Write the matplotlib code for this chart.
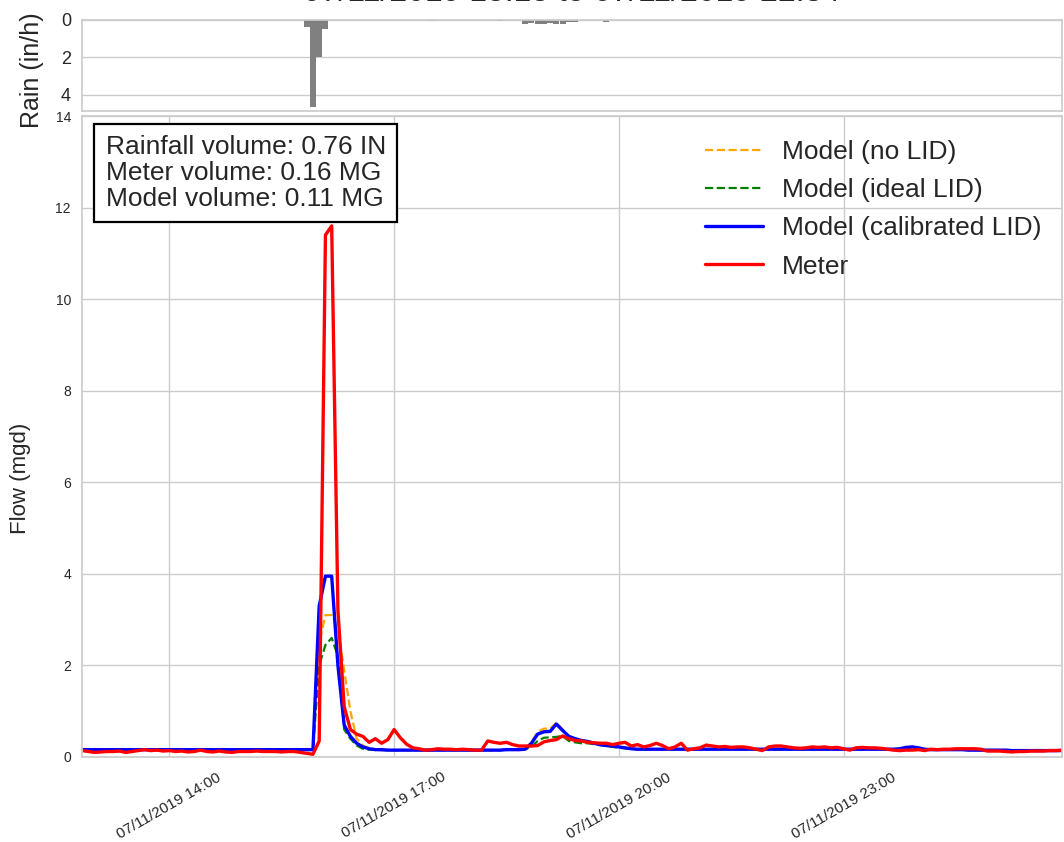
import matplotlib
matplotlib.use('Agg')
import matplotlib.pyplot as plt
import matplotlib.dates as mdates
import seaborn as sns
import pandas as pd

sns.set_theme(style='whitegrid')
plt.rcParams['font.family'] = ['Liberation Sans', 'DejaVu Sans']

# 5-minute flow records
times = pd.date_range('2019-07-11 12:50', periods=158, freq='5min')

meter = [
    0.14, 0.12, 0.10, 0.11, 0.12, 0.12, 0.13, 0.10, 0.12, 0.14,
    0.16, 0.14, 0.15, 0.13, 0.14, 0.12, 0.13, 0.11, 0.12, 0.15,
    0.12, 0.11, 0.13, 0.11, 0.10, 0.12, 0.12, 0.12, 0.13, 0.12,
    0.12, 0.12, 0.11, 0.12, 0.12, 0.10, 0.08, 0.06, 0.35, 11.4,
    11.6, 3.2, 1.1, 0.6, 0.5, 0.45, 0.32, 0.4, 0.3, 0.38,
    0.6, 0.42, 0.28, 0.2, 0.18, 0.15, 0.16, 0.18, 0.17, 0.17,
    0.16, 0.17, 0.16, 0.15, 0.15, 0.35, 0.32, 0.3, 0.32, 0.27,
    0.24, 0.24, 0.24, 0.25, 0.33, 0.36, 0.38, 0.46, 0.4, 0.36,
    0.35, 0.32, 0.31, 0.3, 0.3, 0.27, 0.3, 0.32, 0.24, 0.27,
    0.22, 0.25, 0.3, 0.25, 0.18, 0.22, 0.3, 0.15, 0.18, 0.2,
    0.26, 0.24, 0.22, 0.23, 0.21, 0.22, 0.22, 0.2, 0.17, 0.14,
    0.22, 0.24, 0.24, 0.22, 0.2, 0.19, 0.2, 0.22, 0.21, 0.22,
    0.2, 0.21, 0.18, 0.15, 0.2, 0.21, 0.2, 0.2, 0.19, 0.17,
    0.15, 0.14, 0.15, 0.15, 0.16, 0.14, 0.17, 0.16, 0.17, 0.17,
    0.18, 0.18, 0.18, 0.18, 0.17, 0.13, 0.13, 0.13, 0.12, 0.11,
    0.12, 0.12, 0.13, 0.13, 0.13, 0.14, 0.14, 0.15,
]

model_cal = [
    0.16, 0.16, 0.16, 0.16, 0.16, 0.16, 0.16, 0.16, 0.16, 0.16,
    0.16, 0.16, 0.16, 0.16, 0.16, 0.16, 0.16, 0.16, 0.16, 0.16,
    0.16, 0.16, 0.16, 0.16, 0.16, 0.16, 0.16, 0.16, 0.16, 0.16,
    0.16, 0.16, 0.16, 0.16, 0.16, 0.16, 0.16, 0.16, 3.3, 3.95,
    3.95, 2.0, 0.7, 0.45, 0.3, 0.22, 0.18, 0.16, 0.16, 0.15,
    0.15, 0.15, 0.15, 0.15, 0.15, 0.15, 0.15, 0.15, 0.15, 0.15,
    0.15, 0.15, 0.15, 0.15, 0.15, 0.15, 0.15, 0.15, 0.16, 0.16,
    0.16, 0.17, 0.3, 0.5, 0.55, 0.56, 0.72, 0.58, 0.45, 0.4,
    0.36, 0.34, 0.3, 0.27, 0.25, 0.24, 0.22, 0.2, 0.18, 0.17,
    0.17, 0.17, 0.17, 0.17, 0.17, 0.17, 0.17, 0.17, 0.17, 0.17,
    0.17, 0.17, 0.17, 0.17, 0.17, 0.17, 0.17, 0.17, 0.17, 0.17,
    0.17, 0.17, 0.17, 0.17, 0.17, 0.17, 0.17, 0.17, 0.17, 0.17,
    0.17, 0.17, 0.17, 0.17, 0.17, 0.17, 0.17, 0.17, 0.17, 0.17,
    0.17, 0.18, 0.21, 0.22, 0.2, 0.17, 0.16, 0.16, 0.16, 0.16,
    0.16, 0.16, 0.15, 0.15, 0.15, 0.15, 0.15, 0.15, 0.15, 0.14,
    0.14, 0.14, 0.14, 0.14, 0.14, 0.14, 0.14, 0.14,
]

model_nolid = [
    0.16, 0.16, 0.16, 0.16, 0.16, 0.16, 0.16, 0.16, 0.16, 0.16,
    0.16, 0.16, 0.16, 0.16, 0.16, 0.16, 0.16, 0.16, 0.16, 0.16,
    0.16, 0.16, 0.16, 0.16, 0.16, 0.16, 0.16, 0.16, 0.16, 0.16,
    0.16, 0.16, 0.16, 0.16, 0.16, 0.16, 0.16, 0.16, 2.5, 3.1,
    3.1, 2.8, 1.9, 1.0, 0.4, 0.25, 0.2, 0.17, 0.16, 0.15,
    0.15, 0.15, 0.15, 0.15, 0.15, 0.15, 0.15, 0.15, 0.15, 0.15,
    0.15, 0.15, 0.15, 0.15, 0.15, 0.15, 0.15, 0.15, 0.16, 0.16,
    0.16, 0.17, 0.32, 0.55, 0.62, 0.62, 0.75, 0.6, 0.45, 0.4,
    0.37, 0.35, 0.32, 0.28, 0.26, 0.24, 0.22, 0.2, 0.18, 0.17,
    0.17, 0.17, 0.17, 0.17, 0.17, 0.17, 0.17, 0.17, 0.17, 0.17,
    0.17, 0.17, 0.17, 0.17, 0.17, 0.17, 0.17, 0.17, 0.17, 0.17,
    0.17, 0.17, 0.17, 0.17, 0.17, 0.17, 0.17, 0.17, 0.17, 0.17,
    0.17, 0.17, 0.17, 0.17, 0.17, 0.17, 0.17, 0.17, 0.17, 0.17,
    0.17, 0.18, 0.2, 0.21, 0.19, 0.17, 0.16, 0.16, 0.16, 0.16,
    0.16, 0.16, 0.15, 0.15, 0.15, 0.15, 0.15, 0.15, 0.15, 0.14,
    0.14, 0.14, 0.14, 0.14, 0.14, 0.14, 0.14, 0.14,
]

model_ideal = [
    0.16, 0.16, 0.16, 0.16, 0.16, 0.16, 0.16, 0.16, 0.16, 0.16,
    0.16, 0.16, 0.16, 0.16, 0.16, 0.16, 0.16, 0.16, 0.16, 0.16,
    0.16, 0.16, 0.16, 0.16, 0.16, 0.16, 0.16, 0.16, 0.16, 0.16,
    0.16, 0.16, 0.16, 0.16, 0.16, 0.16, 0.16, 0.16, 2.0, 2.45,
    2.6, 2.2, 0.6, 0.4, 0.25, 0.18, 0.16, 0.16, 0.15, 0.15,
    0.15, 0.15, 0.15, 0.15, 0.15, 0.15, 0.15, 0.15, 0.15, 0.15,
    0.15, 0.15, 0.15, 0.15, 0.15, 0.15, 0.15, 0.15, 0.16, 0.16,
    0.16, 0.17, 0.22, 0.35, 0.42, 0.43, 0.44, 0.46, 0.35, 0.32,
    0.3, 0.3, 0.28, 0.26, 0.24, 0.22, 0.2, 0.19, 0.18, 0.17,
    0.17, 0.17, 0.17, 0.17, 0.17, 0.17, 0.17, 0.17, 0.17, 0.17,
    0.17, 0.17, 0.17, 0.17, 0.17, 0.17, 0.17, 0.17, 0.17, 0.17,
    0.17, 0.17, 0.17, 0.17, 0.17, 0.17, 0.17, 0.17, 0.17, 0.17,
    0.17, 0.17, 0.17, 0.17, 0.17, 0.17, 0.17, 0.17, 0.17, 0.17,
    0.17, 0.17, 0.19, 0.2, 0.18, 0.17, 0.16, 0.16, 0.16, 0.16,
    0.16, 0.16, 0.15, 0.15, 0.15, 0.15, 0.15, 0.15, 0.15, 0.14,
    0.14, 0.14, 0.14, 0.14, 0.14, 0.14, 0.14, 0.14,
]

# rain gauge (in/h), only non-zero intervals
rain_times = pd.to_datetime([
    '2019-07-11 15:50', '2019-07-11 15:55', '2019-07-11 16:00', '2019-07-11 16:05',
    '2019-07-11 17:30', '2019-07-11 18:25', '2019-07-11 18:45', '2019-07-11 18:50',
    '2019-07-11 18:55', '2019-07-11 19:00', '2019-07-11 19:05', '2019-07-11 19:10',
    '2019-07-11 19:15', '2019-07-11 19:20', '2019-07-11 19:25', '2019-07-11 19:50',
])
rain = [0.37, 4.65, 2.0, 0.47, 0.05, 0.05, 0.2, 0.15,
        0.2, 0.2, 0.15, 0.2, 0.2, 0.1, 0.1, 0.1]

title = '07/11/2019 15:15 to 07/11/2019 22:34'
stats = ('Rainfall volume: 0.76 IN\n'
         'Meter volume: 0.16 MG\n'
         'Model volume: 0.11 MG')

fig = plt.figure(figsize=(10.64, 8.42), dpi=100)
ax_rain = fig.add_axes([82/1064, 1 - 111/842, 980/1064, 91/842])
ax = fig.add_axes([82/1064, 1 - 757/842, 980/1064, 641/842])

# rain panel
ax_rain.bar(rain_times, rain, width=4.8/1440, color='grey', edgecolor='none', linewidth=0)
ax_rain.set_ylim(4.88, 0)
ax_rain.set_yticks([0, 2, 4])
ax_rain.tick_params(axis='y', labelsize=13, pad=2)
ax_rain.set_xlim(times[0], times[-1])
ax_rain.set_xticks([])
ax_rain.grid(axis='x', visible=False)
ax_rain.set_ylabel('Rain (in/h)', fontsize=18)
ax_rain.yaxis.set_label_coords(-0.039, 0.45)
ax_rain.set_title(title, fontsize=23, pad=14)

# flow panel
ax.plot(times, model_nolid, color='orange', ls='--', lw=1.6, label='Model (no LID)')
ax.plot(times, model_ideal, color='green', ls='--', lw=1.6, label='Model (ideal LID)')
ax.plot(times, model_cal, color='blue', lw=2.4, label='Model (calibrated LID)')
ax.plot(times, meter, color='red', lw=2.4, label='Meter')
ax.set_xlim(times[0], times[-1])
ax.set_ylim(0, 14)
ax.set_yticks(range(0, 15, 2))
ax.tick_params(axis='y', labelsize=10, pad=2)
ax.xaxis.set_major_locator(mdates.HourLocator(byhour=[14, 17, 20, 23]))
ax.xaxis.set_major_formatter(mdates.DateFormatter('%m/%d/%Y %H:%M'))
plt.setp(ax.get_xticklabels(), rotation=30, fontsize=11)
ax.set_ylabel('Flow (mgd)', fontsize=16)
ax.yaxis.set_label_coords(-0.052, 0.435)

ax.text(0.024, 0.97, stats, transform=ax.transAxes, fontsize=19, va='top', ha='left',
        linespacing=1.1,
        bbox=dict(boxstyle='square,pad=0.42', facecolor='white', edgecolor='black', lw=1.6))
ax.legend(loc='upper right', bbox_to_anchor=(1.003, 1.0), fontsize=19, frameon=False,
          handlelength=2.2, handletextpad=0.7, labelspacing=0.54)

fig.savefig('out.png', dpi=100)
